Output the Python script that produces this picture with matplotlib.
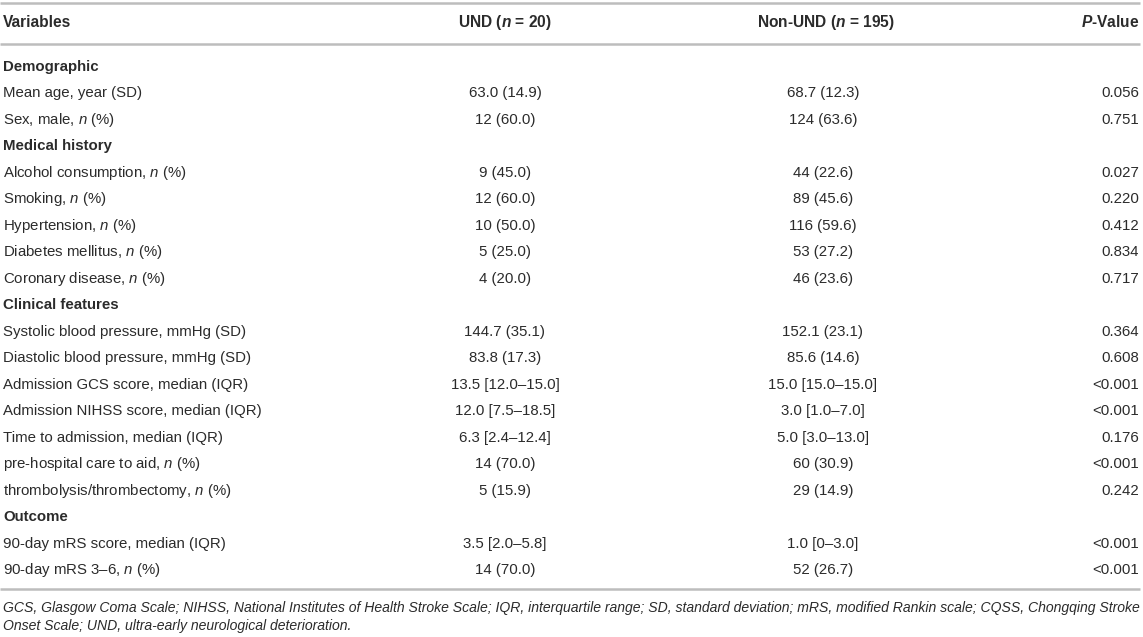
import matplotlib
matplotlib.use("Agg")
import matplotlib.pyplot as plt

plt.rcParams['font.family'] = ['Liberation Sans', 'DejaVu Sans']
plt.rcParams['mathtext.fontset'] = 'custom'
plt.rcParams['mathtext.rm'] = 'Liberation Sans'
plt.rcParams['mathtext.it'] = 'Liberation Sans:italic'
plt.rcParams['mathtext.bf'] = 'Liberation Sans:bold'
plt.rcParams['mathtext.bfit'] = 'Liberation Sans:italic:bold'

N = r'$\mathit{n}$'

headers = ["Variables", r"UND ($\mathbfit{n}$ = 20)", r"Non-UND ($\mathbfit{n}$ = 195)", r"$\mathbfit{P}$-Value"]

variables = [
    "Demographic",
    "Mean age, year (SD)",
    f"Sex, male, {N} (%)",
    "Medical history",
    f"Alcohol consumption, {N} (%)",
    f"Smoking, {N} (%)",
    f"Hypertension, {N} (%)",
    f"Diabetes mellitus, {N} (%)",
    f"Coronary disease, {N} (%)",
    "Clinical features",
    "Systolic blood pressure, mmHg (SD)",
    "Diastolic blood pressure, mmHg (SD)",
    "Admission GCS score, median (IQR)",
    "Admission NIHSS score, median (IQR)",
    "Time to admission, median (IQR)",
    f"pre-hospital care to aid, {N} (%)",
    f"thrombolysis/thrombectomy, {N} (%)",
    "Outcome",
    "90-day mRS score, median (IQR)",
    f"90-day mRS 3–6, {N} (%)",
]
is_section = [True, False, False, True, False, False, False, False, False, True,
              False, False, False, False, False, False, False, True, False, False]
und = ["", "63.0 (14.9)", "12 (60.0)", "", "9 (45.0)", "12 (60.0)", "10 (50.0)",
       "5 (25.0)", "4 (20.0)", "", "144.7 (35.1)", "83.8 (17.3)", "13.5 [12.0–15.0]",
       "12.0 [7.5–18.5]", "6.3 [2.4–12.4]", "14 (70.0)", "5 (15.9)", "",
       "3.5 [2.0–5.8]", "14 (70.0)"]
non_und = ["", "68.7 (12.3)", "124 (63.6)", "", "44 (22.6)", "89 (45.6)", "116 (59.6)",
           "53 (27.2)", "46 (23.6)", "", "152.1 (23.1)", "85.6 (14.6)", "15.0 [15.0–15.0]",
           "3.0 [1.0–7.0]", "5.0 [3.0–13.0]", "60 (30.9)", "29 (14.9)", "",
           "1.0 [0–3.0]", "52 (26.7)"]
p_values = ["", "0.056", "0.751", "", "0.027", "0.220", "0.412", "0.834", "0.717", "",
            "0.364", "0.608", "<0.001", "<0.001", "0.176", "<0.001", "0.242", "",
            "<0.001", "<0.001"]

footnote = ["GCS, Glasgow Coma Scale; NIHSS, National Institutes of Health Stroke Scale; IQR, interquartile range; SD, standard deviation; mRS, modified Rankin scale; CQSS, Chongqing Stroke",
            "Onset Scale; UND, ultra-early neurological deterioration."]

W, H = 1143, 637
fig = plt.figure(figsize=(W / 100, H / 100), dpi=100)
ax = fig.add_axes([0, 0, 1, 1])
ax.set_xlim(0, W)
ax.set_ylim(H, 0)
ax.axis('off')

FS = 10.8
FS_HEAD = 11.2
FS_FOOT = 10.1
color = '#2b2b2b'
line_c = '#bdbdbd'
x_var, x_und, x_non, x_p = 3, 505, 823, 1139
BL = 5.4  # baseline offset from visual center

for yl in (2.5, 43.5, 589):
    ax.plot([0, 1140], [yl, yl], color=line_c, lw=1.8, solid_capstyle='butt')

hy = 22 + BL
ax.text(x_var, hy, headers[0], ha='left', va='baseline', fontsize=FS_HEAD, weight='bold', color=color)
ax.text(x_und, hy, headers[1], ha='center', va='baseline', fontsize=FS_HEAD, weight='bold', color=color)
ax.text(x_non + 3, hy, headers[2], ha='center', va='baseline', fontsize=FS_HEAD, weight='bold', color=color)
ax.text(x_p, hy, headers[3], ha='right', va='baseline', fontsize=FS_HEAD, weight='bold', color=color)

y0, dy = 65.5, 26.5
for i, lab in enumerate(variables):
    y = y0 + i * dy + BL
    ax.text(x_var, y, lab, ha='left', va='baseline', fontsize=FS,
            weight='bold' if is_section[i] else 'normal', color=color)
    ax.text(x_und, y, und[i], ha='center', va='baseline', fontsize=FS, color=color)
    ax.text(x_non, y, non_und[i], ha='center', va='baseline', fontsize=FS, color=color)
    ax.text(x_p, y, p_values[i], ha='right', va='baseline', fontsize=FS, color=color)

ax.text(x_var, 607 + 5, footnote[0], ha='left', va='baseline', fontsize=FS_FOOT,
        style='italic', color=color)
ax.text(x_var, 625 + 5, footnote[1], ha='left', va='baseline', fontsize=FS_FOOT,
        style='italic', color=color)

fig.savefig('out.png', dpi=100)
